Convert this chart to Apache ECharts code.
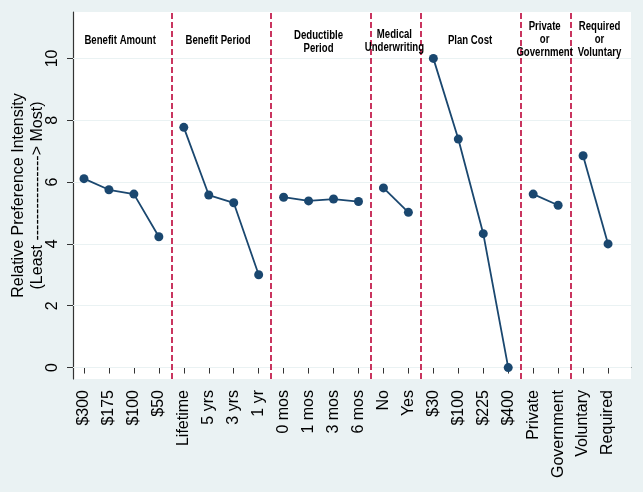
<!DOCTYPE html>
<html>
<head>
<meta charset="utf-8">
<script src="https://cdn.jsdelivr.net/npm/echarts@6/dist/echarts.min.js"></script>
<style>
html,body{margin:0;padding:0;background:#eaf2f3;}
#c{width:643px;height:492px;}
</style>
</head>
<body>
<div id="c"></div>
<script>
var categories = ["$300","$175","$100","$50","Lifetime","5 yrs","3 yrs","1 yr","0 mos","1 mos","3 mos","6 mos","No","Yes","$30","$100","$225","$400","Private","Government","Voluntary","Required"];
var values = [6.11,5.75,5.61,4.23,7.77,5.58,5.33,3.00,5.51,5.39,5.45,5.37,5.81,5.02,10.0,7.39,4.33,0.0,5.61,5.25,6.85,4.00];
var groupSizes = [4,4,4,2,4,2,2];
var groupTitles = ["Benefit Amount","Benefit Period","Deductible\nPeriod","Medical\nUnderwriting","Plan Cost","Private\nor\nGovernment","Required\nor\nVoluntary"];
var yTicks = [0,2,4,6,8,10];

var chart = echarts.init(document.getElementById('c'));
var positions = categories.map(function(_, i){ return i + 1; });
var series = [];
var dividers = [];
var titleSpots = [];
var start = 0;
var titleOffsets = [-0.05,-0.13,-0.1,-0.06,-0.03,-0.04,0.16];
var titleY = [10.58,10.58,10.53,10.56,10.58,10.62,10.62];
groupSizes.forEach(function(n, g){
  var data = [];
  for (var i = start; i < start + n; i++) data.push([positions[i], values[i]]);
  series.push({
    type: 'line', data: data, symbol: 'circle', symbolSize: 9,
    itemStyle: {color: '#1a476f'}, lineStyle: {color: '#1a476f', width: 1.8},
    z: 5, silent: true
  });
  var center = (positions[start] + positions[start + n - 1]) / 2 + titleOffsets[g];
  titleSpots.push([center, titleY[g]]);
  if (g < groupSizes.length - 1) dividers.push({xAxis: positions[start + n - 1] + 0.5});
  start += n;
});
series.push({
  type: 'line', data: [], silent: true, z: 1,
  markLine: {
    silent: true, symbol: 'none', animation: false,
    label: {show: false},
    lineStyle: {color: '#eaf2f3', width: 1.2, type: 'solid'},
    data: yTicks.map(function(v){ return {yAxis: v}; })
  }
});
series.push({
  type: 'line', data: [], silent: true, z: 3,
  markLine: {
    silent: true, symbol: 'none', animation: false,
    label: {show: false},
    lineStyle: {color: '#c4204f', width: 1.8, type: [6, 3]},
    data: dividers
  }
});

chart.setOption({
  animation: false,
  backgroundColor: '#eaf2f3',
  grid: {left: 73, right: 12, top: 12, bottom: 113, show: true, backgroundColor: '#ffffff', borderWidth: 0, containLabel: false, outerBoundsMode: 'none'},
  xAxis: {
    type: 'value', min: 0.56, max: 22.92,
    splitLine: {show: false},
    axisLine: {show: true, lineStyle: {color: '#333', width: 1.2}},
    axisTick: {show: true, length: 6, lineStyle: {color: '#333'}, customValues: positions},
    axisLabel: {
      show: true, rotate: 90, margin: 11, fontSize: 16, color: '#000',
      fontFamily: 'Arial, "Liberation Sans", sans-serif',
      customValues: positions,
      formatter: function(v){ return categories[Math.round(v) - 1] || ''; }
    }
  },
  yAxis: {
    type: 'value', min: -0.37, max: 11.5,
    splitLine: {show: false},
    axisLine: {show: true, lineStyle: {color: '#333', width: 1.2}},
    axisTick: {show: true, length: 6, lineStyle: {color: '#333'}, customValues: yTicks},
    axisLabel: {
      show: true, rotate: 90, margin: 12, fontSize: 16, color: '#000',
      fontFamily: 'Arial, "Liberation Sans", sans-serif',
      customValues: yTicks
    },
    name: 'Relative Preference Intensity\n(Least ----------------> Most)',
    nameLocation: 'middle', nameGap: 26, nameMoveOverlap: false,
    nameTextStyle: {fontSize: 16, lineHeight: 19, color: '#000', fontFamily: 'Arial, "Liberation Sans", sans-serif'}
  },
  series: series
});

var graphics = titleSpots.map(function(spot, g){
  var p = chart.convertToPixel({gridIndex: 0}, spot);
  return {
    type: 'text', x: p[0], y: p[1], scaleX: 0.8, z: 100, silent: true,
    style: {
      text: groupTitles[g], x: 0, y: 0, align: 'center', verticalAlign: 'middle',
      fill: '#000', font: 'bold 12px "Liberation Sans", Arial, sans-serif', lineHeight: 13
    }
  };
});
chart.setOption({graphic: graphics});
</script>
</body>
</html>
